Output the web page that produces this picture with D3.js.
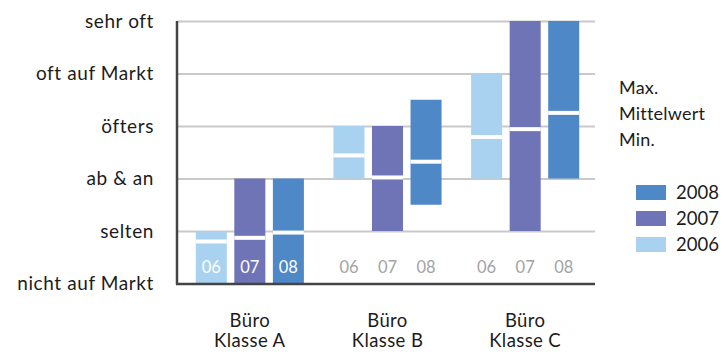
<!DOCTYPE html>
<html><head><meta charset="utf-8">
<script src="https://cdn.jsdelivr.net/npm/d3@7"></script>
<style>
body{margin:0;background:#fff;}
svg{display:block;font-family:Lato,"Open Sans",sans-serif;}
</style></head>
<body>
<svg id="c" width="725" height="359"></svg>
<script>
const groups = ["A", "B", "C"];
const groupLine1 = ["Büro", "Büro", "Büro"];
const groupLine2 = ["Klasse A", "Klasse B", "Klasse C"];
const years = ["2006", "2007", "2008"];
const yearShort = ["06", "07", "08"];
const levelLabels = ["nicht auf Markt", "selten", "ab & an", "öfters", "oft auf Markt", "sehr oft"];
// per group, per year (2006, 2007, 2008)
const minVals  = [[0, 0, 0], [2, 1, 1.5], [2, 1, 2]];
const meanVals = [[0.8, 0.87, 0.97], [2.44, 2.02, 2.32], [2.79, 2.94, 3.25]];
const maxVals  = [[1, 2, 2], [3, 3, 3.5], [4, 5, 5]];
const legendText = ["Max.", "Mittelwert", "Min."];
const colors = {"2006": "#a9d2f1", "2007": "#6f74b6", "2008": "#4f88c7"};

const svg = d3.select("#c");
const pL = 177, pR = 595, pT = 21, pB = 283.5;

const y = d3.scaleLinear().domain([0, 5]).range([pB, pT]);
const x0 = d3.scaleBand().domain(groups).range([181, 594]).paddingInner(0.16).paddingOuter(0.08);
const x1 = d3.scaleBand().domain(years).range([0, x0.bandwidth()]).paddingInner(0.195).paddingOuter(0.0975);

// gridlines
const grid = svg.append("g").attr("transform", `translate(${pL},0)`)
  .call(d3.axisRight(y).tickValues([1,2,3,4,5]).tickSize(pR - pL).tickFormat(""));
grid.select(".domain").remove();
grid.selectAll("line").attr("stroke", "#c9c9c9").attr("stroke-width", 2);

// y labels
const ya = svg.append("g").attr("transform", `translate(${pL},0)`)
  .call(d3.axisLeft(y).tickValues([0,1,2,3,4,5]).tickSize(0).tickPadding(23).tickFormat(d => levelLabels[d]));
ya.select(".domain").remove();
ya.selectAll("text").attr("font-size", 19).attr("letter-spacing", 0.6).attr("fill", "#1c1c1c")
  .attr("font-family", "Lato, sans-serif");

// bars
const data = [];
groups.forEach((g, gi) => years.forEach((yr, yi) => data.push({
  g, yr, short: yearShort[yi], min: minVals[gi][yi], mean: meanVals[gi][yi], max: maxVals[gi][yi]
})));

const bars = svg.append("g");
bars.selectAll("rect.bar").data(data).join("rect").attr("class", "bar")
  .attr("x", d => x0(d.g) + x1(d.yr))
  .attr("width", x1.bandwidth())
  .attr("y", d => y(d.max))
  .attr("height", d => y(d.min) - y(d.max))
  .attr("fill", d => colors[d.yr]);
bars.selectAll("rect.gap").data(data).join("rect").attr("class", "gap")
  .attr("x", d => x0(d.g) + x1(d.yr))
  .attr("width", x1.bandwidth())
  .attr("y", d => y(d.mean) - 2)
  .attr("height", 4)
  .attr("fill", "#fff");
bars.selectAll("text").data(data).join("text")
  .attr("x", d => x0(d.g) + x1(d.yr) + x1.bandwidth() / 2)
  .attr("y", 267)
  .attr("dy", "0.35em")
  .attr("text-anchor", "middle")
  .attr("font-size", 16.5)
  .attr("fill", d => d.min === 0 ? "#fff" : "#a3a3a3")
  .text(d => d.short);

// axes lines
svg.append("line").attr("x1", pL).attr("x2", pL).attr("y1", pT).attr("y2", pB + 1)
  .attr("stroke", "#444").attr("stroke-width", 2.5);
svg.append("line").attr("x1", pL - 1).attr("x2", pR).attr("y1", pB + 0.5).attr("y2", pB + 0.5)
  .attr("stroke", "#444").attr("stroke-width", 2.5);

// category labels
const cat = svg.append("g");
groups.forEach((g, gi) => {
  const cx = x0(g) + x0.bandwidth() / 2;
  cat.append("text").attr("x", cx).attr("y", 321).attr("dy", "0.35em").attr("text-anchor", "middle")
    .attr("font-size", 18.5).attr("letter-spacing", 0.4).attr("fill", "#1c1c1c").text(groupLine1[gi]);
  cat.append("text").attr("x", cx).attr("y", 341).attr("dy", "0.35em").attr("text-anchor", "middle")
    .attr("font-size", 18.5).attr("letter-spacing", 0.4).attr("fill", "#1c1c1c").text(groupLine2[gi]);
});

// legend text
const lg = svg.append("g");
lg.selectAll("text.lt").data(legendText).join("text").attr("class", "lt")
  .attr("x", 619).attr("y", (d, i) => 88 + i * 26).attr("dy", "0.35em")
  .attr("font-size", 18).attr("letter-spacing", 0.2).attr("fill", "#1c1c1c").text(d => d);
const legYears = years.slice().reverse();
lg.selectAll("rect").data(legYears).join("rect")
  .attr("x", 636).attr("y", (d, i) => 185 + i * 26).attr("width", 30).attr("height", 15)
  .attr("fill", d => colors[d]);
lg.selectAll("text.ly").data(legYears).join("text").attr("class", "ly")
  .attr("x", 676).attr("y", (d, i) => 192.5 + i * 26).attr("dy", "0.35em")
  .attr("font-size", 18.5).attr("fill", "#1c1c1c").text(d => d);
</script>
</body></html>
